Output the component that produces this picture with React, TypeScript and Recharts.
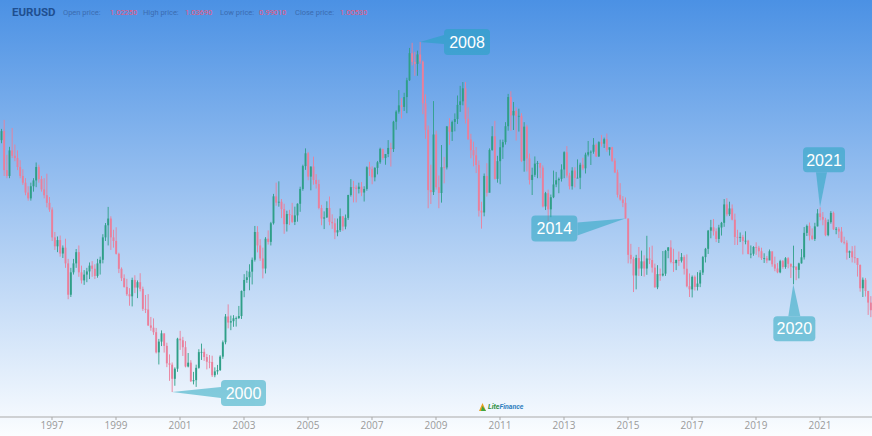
import React from 'react';
import { ComposedChart, Bar, XAxis, YAxis, ReferenceDot } from 'recharts';

// ---- DATA (monthly EURUSD, June 1995 .. August 2022) ----
const START_YEAR = 1995;
const START_MONTH = 6;
const firstOpen = 1.385;

const highs = [
  // 1995 Jun-Dec
  1.410, 1.430, 1.352, 1.370, 1.412, 1.375, 1.362,
  // 1996
  1.340, 1.320, 1.300, 1.282, 1.290, 1.300, 1.335, 1.330, 1.305, 1.300, 1.310, 1.258,
  // 1997
  1.235, 1.180, 1.170, 1.172, 1.150, 1.165, 1.120, 1.100, 1.120, 1.142, 1.150, 1.105,
  // 1998
  1.095, 1.100, 1.112, 1.115, 1.108, 1.120, 1.125, 1.175, 1.200, 1.236, 1.215, 1.185,
  // 1999
  1.1906, 1.1338, 1.1010, 1.0855, 1.0755, 1.0547, 1.0781, 1.0835, 1.0720, 1.0880, 1.0581, 1.0395,
  // 2000
  1.0415, 0.9905, 0.9873, 0.9660, 0.9415, 0.9605, 0.9530, 0.9330, 0.9070, 0.8890, 0.8780, 0.9440,
  // 2001
  0.9595, 0.9460, 0.9365, 0.9100, 0.8940, 0.8680, 0.8840, 0.9185, 0.9310, 0.9200, 0.9080, 0.9055,
  // 2002
  0.9040, 0.8780, 0.8835, 0.9050, 0.9380, 0.9970, 1.0185, 0.9935, 0.9945, 0.9915, 1.0150, 1.0495,
  // 2003
  1.0860, 1.0935, 1.1080, 1.1230, 1.1935, 1.1930, 1.1640, 1.1450, 1.1685, 1.1835, 1.2025, 1.2650,
  // 2004
  1.2900, 1.2930, 1.2535, 1.2430, 1.2275, 1.2295, 1.2450, 1.2365, 1.2440, 1.2810, 1.3300, 1.3665,
  // 2005
  1.3585, 1.3260, 1.3480, 1.3090, 1.2965, 1.2405, 1.2260, 1.2485, 1.2590, 1.2195, 1.2105, 1.2100,
  // 2006
  1.2325, 1.2155, 1.2190, 1.2630, 1.2980, 1.2940, 1.2840, 1.2900, 1.2915, 1.2820, 1.3265, 1.3365,
  // 2007
  1.3265, 1.3245, 1.3385, 1.3680, 1.3600, 1.3535, 1.3850, 1.3790, 1.4280, 1.4515, 1.4965, 1.4785,
  // 2008
  1.4905, 1.5240, 1.5905, 1.6020, 1.5820, 1.5845, 1.6040, 1.5625, 1.4870, 1.4175, 1.3300, 1.4720,
  // 2009
  1.4060, 1.3060, 1.3740, 1.3475, 1.4165, 1.4340, 1.4285, 1.4445, 1.4845, 1.5060, 1.5145, 1.5145,
  // 2010
  1.4580, 1.3990, 1.3815, 1.3695, 1.3395, 1.2475, 1.3105, 1.3335, 1.3665, 1.4160, 1.4280, 1.3500,
  // 2011
  1.3860, 1.3860, 1.4250, 1.4880, 1.4940, 1.4700, 1.4580, 1.4550, 1.4450, 1.4250, 1.4190, 1.3550,
  // 2012
  1.3235, 1.3485, 1.3385, 1.3285, 1.3285, 1.2695, 1.2745, 1.2635, 1.3170, 1.3140, 1.3015, 1.3310,
  // 2013
  1.3600, 1.3715, 1.3120, 1.3245, 1.3245, 1.3420, 1.3345, 1.3455, 1.3570, 1.3830, 1.3620, 1.3895,
  // 2014
  1.3775, 1.3825, 1.3965, 1.3905, 1.3995, 1.3680, 1.3700, 1.3445, 1.3190, 1.2890, 1.2600, 1.2570,
  // 2015
  1.2100, 1.1535, 1.1245, 1.1290, 1.1465, 1.1385, 1.1280, 1.1715, 1.1460, 1.1495, 1.1095, 1.1060,
  // 2016
  1.0985, 1.1375, 1.1400, 1.1465, 1.1615, 1.1425, 1.1185, 1.1365, 1.1330, 1.1280, 1.1300, 1.0875,
  // 2017
  1.0830, 1.0830, 1.0905, 1.0950, 1.1265, 1.1445, 1.1845, 1.2070, 1.2090, 1.1880, 1.1960, 1.2025,
  // 2018
  1.2535, 1.2555, 1.2475, 1.2415, 1.2210, 1.1850, 1.1790, 1.1735, 1.1815, 1.1625, 1.1500, 1.1485,
  // 2019
  1.1570, 1.1490, 1.1450, 1.1325, 1.1265, 1.1410, 1.1285, 1.1250, 1.1110, 1.1180, 1.1175, 1.1240,
  // 2020
  1.1240, 1.1095, 1.1495, 1.1020, 1.1115, 1.1420, 1.1910, 1.1965, 1.2010, 1.1880, 1.2005, 1.2310,
  // 2021
  1.2350, 1.2245, 1.2115, 1.2080, 1.2265, 1.2255, 1.1910, 1.1910, 1.1910, 1.1695, 1.1615, 1.1385,
  // 2022 Jan-Aug
  1.1485, 1.1495, 1.1185, 1.1075, 1.0785, 1.0775, 1.0485, 1.0370,
];

const lows = [
  // 1995 Jun-Dec
  1.378, 1.305, 1.300, 1.300, 1.345, 1.338, 1.318,
  // 1996
  1.300, 1.285, 1.262, 1.250, 1.250, 1.270, 1.280, 1.290, 1.270, 1.255, 1.235, 1.225,
  // 1997
  1.160, 1.140, 1.135, 1.125, 1.122, 1.100, 1.030, 1.035, 1.085, 1.100, 1.080, 1.065,
  // 1998
  1.062, 1.068, 1.075, 1.080, 1.075, 1.078, 1.085, 1.110, 1.160, 1.150, 1.140, 1.145,
  // 1999
  1.1298, 1.0883, 1.0706, 1.0558, 1.0374, 1.0155, 1.0140, 1.0437, 1.0325, 1.0475, 1.0040, 0.9992,
  // 2000
  0.9705, 0.9597, 0.9505, 0.9090, 0.8845, 0.9255, 0.9110, 0.8785, 0.8480, 0.8230, 0.8370, 0.8680,
  // 2001
  0.9170, 0.9035, 0.8780, 0.8780, 0.8455, 0.8400, 0.8344, 0.8750, 0.8945, 0.8925, 0.8735, 0.8760,
  // 2002
  0.8565, 0.8560, 0.8620, 0.8700, 0.8970, 0.9295, 0.9650, 0.9610, 0.9685, 0.9690, 0.9860, 0.9860,
  // 2003
  1.0345, 1.0665, 1.0500, 1.0630, 1.1140, 1.1345, 1.1155, 1.0765, 1.0875, 1.1520, 1.1500, 1.1965,
  // 2004
  1.2385, 1.2365, 1.2110, 1.1760, 1.1810, 1.1955, 1.2000, 1.1955, 1.2030, 1.2250, 1.2720, 1.3185,
  // 2005
  1.2955, 1.2730, 1.2855, 1.2770, 1.2305, 1.1950, 1.1865, 1.2115, 1.1950, 1.1870, 1.1640, 1.1705,
  // 2006
  1.1800, 1.1825, 1.1860, 1.2070, 1.2590, 1.2460, 1.2460, 1.2660, 1.2600, 1.2480, 1.2720, 1.3050,
  // 2007
  1.2865, 1.2930, 1.3085, 1.3320, 1.3410, 1.3300, 1.3470, 1.3260, 1.3585, 1.4080, 1.4440, 1.4330,
  // 2008
  1.4500, 1.4450, 1.5170, 1.5515, 1.5285, 1.5285, 1.5550, 1.4430, 1.3880, 1.2330, 1.2425, 1.2625,
  // 2009
  1.2745, 1.2330, 1.2455, 1.2885, 1.3195, 1.3745, 1.3830, 1.4045, 1.4210, 1.4480, 1.4625, 1.4220,
  // 2010
  1.3860, 1.3445, 1.3265, 1.3115, 1.2145, 1.1875, 1.2150, 1.2590, 1.2690, 1.3610, 1.2970, 1.2900,
  // 2011
  1.2865, 1.3430, 1.3750, 1.4060, 1.4055, 1.4075, 1.3840, 1.4040, 1.3360, 1.3145, 1.3150, 1.2860,
  // 2012
  1.2625, 1.3030, 1.3000, 1.3000, 1.2350, 1.2290, 1.2040, 1.2130, 1.2555, 1.2800, 1.2665, 1.2925,
  // 2013
  1.3000, 1.3010, 1.2750, 1.2745, 1.2795, 1.3000, 1.2755, 1.3180, 1.3105, 1.3485, 1.3295, 1.3545,
  // 2014
  1.3475, 1.3475, 1.3705, 1.3675, 1.3590, 1.3505, 1.3365, 1.3115, 1.2570, 1.2500, 1.2355, 1.2100,
  // 2015
  1.1100, 1.1095, 1.0460, 1.0520, 1.0820, 1.0820, 1.0805, 1.0845, 1.1085, 1.0895, 1.0560, 1.0525,
  // 2016
  1.0710, 1.0810, 1.0820, 1.1215, 1.1100, 1.0910, 1.0950, 1.1045, 1.1120, 1.0850, 1.0565, 1.0350,
  // 2017
  1.0340, 1.0495, 1.0495, 1.0570, 1.0840, 1.1120, 1.1310, 1.1660, 1.1720, 1.1575, 1.1555, 1.1720,
  // 2018
  1.1915, 1.2150, 1.2155, 1.2060, 1.1510, 1.1510, 1.1575, 1.1300, 1.1525, 1.1300, 1.1215, 1.1270,
  // 2019
  1.1290, 1.1235, 1.1175, 1.1110, 1.1105, 1.1180, 1.1025, 1.0925, 1.0880, 1.0880, 1.0980, 1.0980,
  // 2020
  1.0990, 1.0775, 1.0635, 1.0725, 1.0765, 1.1095, 1.1185, 1.1710, 1.1610, 1.1620, 1.1600, 1.1925,
  // 2021
  1.2060, 1.1950, 1.1705, 1.1705, 1.1985, 1.1845, 1.1750, 1.1665, 1.1560, 1.1525, 1.1185, 1.1220,
  // 2022 Jan-Aug
  1.1120, 1.1105, 1.0805, 1.0470, 1.0350, 1.0360, 0.9950, 0.9900,
];

const closes = [
  // 1995 Jun-Dec
  1.405, 1.318, 1.305, 1.362, 1.350, 1.345, 1.325,
  // 1996
  1.305, 1.290, 1.268, 1.255, 1.282, 1.295, 1.325, 1.298, 1.275, 1.262, 1.245, 1.230,
  // 1997
  1.168, 1.148, 1.162, 1.132, 1.145, 1.110, 1.040, 1.090, 1.110, 1.135, 1.090, 1.072,
  // 1998
  1.085, 1.092, 1.105, 1.098, 1.082, 1.110, 1.118, 1.168, 1.195, 1.210, 1.168, 1.160,
  // 1999
  1.1313, 1.0979, 1.0770, 1.0575, 1.0412, 1.0365, 1.0730, 1.0560, 1.0680, 1.0530, 1.0085, 1.0070,
  // 2000
  0.9715, 0.9665, 0.9565, 0.9115, 0.9355, 0.9540, 0.9260, 0.8870, 0.8840, 0.8525, 0.8750, 0.9420,
  // 2001
  0.9385, 0.9230, 0.8800, 0.8885, 0.8470, 0.8495, 0.8770, 0.9120, 0.9125, 0.9010, 0.8905, 0.8900,
  // 2002
  0.8605, 0.8690, 0.8720, 0.9020, 0.9340, 0.9915, 0.9780, 0.9810, 0.9875, 0.9880, 0.9925, 1.0485,
  // 2003
  1.0730, 1.0790, 1.0915, 1.1180, 1.1800, 1.1500, 1.1210, 1.0985, 1.1650, 1.1580, 1.1995, 1.2595,
  // 2004
  1.2455, 1.2475, 1.2310, 1.1975, 1.2200, 1.2175, 1.2025, 1.2170, 1.2430, 1.2760, 1.3270, 1.3555,
  // 2005
  1.3035, 1.3260, 1.2960, 1.2870, 1.2335, 1.2100, 1.2125, 1.2335, 1.2025, 1.1995, 1.1790, 1.1840,
  // 2006
  1.2150, 1.1920, 1.2115, 1.2625, 1.2800, 1.2790, 1.2760, 1.2810, 1.2680, 1.2760, 1.3245, 1.3200,
  // 2007
  1.3020, 1.3230, 1.3355, 1.3655, 1.3450, 1.3540, 1.3675, 1.3650, 1.4260, 1.4485, 1.4625, 1.4590,
  // 2008
  1.4810, 1.5185, 1.5790, 1.5595, 1.5550, 1.5760, 1.5600, 1.4670, 1.4080, 1.2735, 1.2690, 1.3975,
  // 2009
  1.2800, 1.2670, 1.3245, 1.3240, 1.4155, 1.4035, 1.4255, 1.4320, 1.4635, 1.4715, 1.5005, 1.4325,
  // 2010
  1.3865, 1.3625, 1.3510, 1.3295, 1.2275, 1.2235, 1.3050, 1.2675, 1.3630, 1.3935, 1.2985, 1.3380,
  // 2011
  1.3690, 1.3805, 1.4160, 1.4810, 1.4400, 1.4500, 1.4390, 1.4390, 1.3390, 1.4150, 1.3440, 1.2960,
  // 2012
  1.3075, 1.3325, 1.3340, 1.3235, 1.2370, 1.2665, 1.2305, 1.2575, 1.2860, 1.2955, 1.2985, 1.3195,
  // 2013
  1.3580, 1.3060, 1.2820, 1.3170, 1.3005, 1.3010, 1.3300, 1.3220, 1.3525, 1.3580, 1.3590, 1.3745,
  // 2014
  1.3485, 1.3805, 1.3770, 1.3870, 1.3635, 1.3690, 1.3390, 1.3130, 1.2630, 1.2525, 1.2450, 1.2100,
  // 2015
  1.1290, 1.1195, 1.0830, 1.1220, 1.0985, 1.1145, 1.0985, 1.1210, 1.1175, 1.1005, 1.0565, 1.0860,
  // 2016
  1.0830, 1.0870, 1.1380, 1.1455, 1.1130, 1.1105, 1.1175, 1.1160, 1.1240, 1.0980, 1.0590, 1.0520,
  // 2017
  1.0800, 1.0575, 1.0650, 1.0895, 1.1240, 1.1425, 1.1830, 1.1905, 1.1815, 1.1645, 1.1900, 1.2005,
  // 2018
  1.2415, 1.2195, 1.2325, 1.2075, 1.1690, 1.1685, 1.1690, 1.1600, 1.1605, 1.1310, 1.1315, 1.1465,
  // 2019
  1.1450, 1.1370, 1.1215, 1.1215, 1.1165, 1.1370, 1.1080, 1.0985, 1.0900, 1.1150, 1.1020, 1.1215,
  // 2020
  1.1090, 1.1025, 1.1030, 1.0955, 1.1100, 1.1235, 1.1780, 1.1935, 1.1720, 1.1645, 1.1925, 1.2215,
  // 2021
  1.2135, 1.2075, 1.1730, 1.2020, 1.2225, 1.1860, 1.1870, 1.1810, 1.1580, 1.1560, 1.1340, 1.1370,
  // 2022 Jan-Aug
  1.1235, 1.1220, 1.1065, 1.0545, 1.0735, 1.0485, 1.0225, 1.0055,
];

const tickYears = ['1997', '1999', '2001', '2003', '2005', '2007', '2009', '2011', '2013', '2015', '2017', '2019', '2021'];

const headerValues = { open: '1.02250', high: '1.03690', low: '0.99010', close: '1.00530' };

// callouts: label, month, which price they point at
const calloutLabels = ['2008', '2014', '2021', '2020', '2000'];
const calloutMonths = ['2008-07', '2014-12', '2021-01', '2020-03', '2000-10'];
const calloutFields: ('high' | 'low')[] = ['high', 'low', 'high', 'low', 'low'];

// ---- build table ----
const months: string[] = [];
for (let i = 0; i < closes.length; i++) {
  const t = START_MONTH - 1 + i;
  const yr = START_YEAR + Math.floor(t / 12);
  const mo = (t % 12) + 1;
  months.push(`${yr}-${String(mo).padStart(2, '0')}`);
}
const data = months.map((m, i) => ({
  m,
  open: i === 0 ? firstOpen : closes[i - 1],
  high: highs[i],
  low: lows[i],
  close: closes[i],
}));

// ---- styles / layout ----
const W = 872;
const H = 436;
const UP = '#2f9f88';
const DOWN = '#ea7f9b';
const BOX_FILL = 'rgb(34,165,190)';

const calloutLayout = [
  { dx: 24, dy: -13, w: 46, h: 26, side: 'left', b0: 6, b1: 15 },
  { dx: -94, dy: -3, w: 46, h: 26, side: 'right', b0: 7, b1: 20 },
  { dx: -17, dy: -60, w: 42, h: 25, side: 'bottom', b0: 13, b1: 24 },
  { dx: -20, dy: 32, w: 42, h: 25, side: 'top', b0: 15, b1: 27 },
  { dx: 49, dy: -12, w: 45, h: 26, side: 'left', b0: 7, b1: 18 },
];

const Candle = (props: any) => {
  const { x, y, width, height, payload } = props;
  if (!payload || x == null || y == null) return null;
  const { open, close, high, low } = payload;
  const top = Math.min(y, y + height);
  const bottom = Math.max(y, y + height);
  const span = high - low;
  const ppu = span > 0 ? (bottom - top) / span : 0;
  const yOf = (v: number) => top + (high - v) * ppu;
  const up = close >= open;
  const color = up ? UP : DOWN;
  const cx = x + width / 2;
  const bTop = yOf(Math.max(open, close));
  const bBot = yOf(Math.min(open, close));
  const bw = 1.9;
  return (
    <g>
      <line x1={cx} x2={cx} y1={top} y2={bottom} stroke={color} strokeWidth={0.9} />
      <rect x={cx - bw / 2} y={bTop} width={bw} height={Math.max(0.8, bBot - bTop)} fill={color} />
    </g>
  );
};

const Callout = (props: any) => {
  const { cx, cy, label, lay } = props;
  if (cx == null || cy == null) return null;
  const bx = cx + lay.dx;
  const by = cy + lay.dy;
  let pts = '';
  if (lay.side === 'left') pts = `${bx},${by + lay.b0} ${bx},${by + lay.b1} ${cx},${cy}`;
  if (lay.side === 'right') pts = `${bx + lay.w},${by + lay.b0} ${bx + lay.w},${by + lay.b1} ${cx},${cy}`;
  if (lay.side === 'top') pts = `${bx + lay.b0},${by} ${bx + lay.b1},${by} ${cx},${cy}`;
  if (lay.side === 'bottom') pts = `${bx + lay.b0},${by + lay.h} ${bx + lay.b1},${by + lay.h} ${cx},${cy}`;
  return (
    <g>
      <g opacity={0.52}>
        <rect x={bx} y={by} width={lay.w} height={lay.h} rx={4} ry={4} fill={BOX_FILL} />
        <polygon points={pts} fill={BOX_FILL} />
      </g>
      <text
        x={bx + lay.w / 2}
        y={by + lay.h / 2}
        dy="0.36em"
        textAnchor="middle"
        fill="#ffffff"
        fontSize={16}
        fontFamily="'Liberation Sans', Arial, sans-serif"
      >
        {label}
      </text>
    </g>
  );
};

const labelStyle: React.CSSProperties = {
  position: 'absolute',
  top: 9,
  fontSize: 7.5,
  lineHeight: '8px',
  color: '#3b6cb0',
  whiteSpace: 'nowrap',
};
const valueStyle: React.CSSProperties = { ...labelStyle, color: '#e8587c' };

export default function App() {
  return (
    <div
      style={{
        position: 'absolute',
        left: 0,
        top: 0,
        width: W,
        height: H,
        overflow: 'hidden',
        background: 'linear-gradient(to bottom, #4b91e4 0%, #a5c8f2 50%, #fbfdff 100%)',
        fontFamily: "Roboto, 'Liberation Sans', sans-serif",
      }}
    >
      <div style={{ position: 'absolute', left: 12, top: 6, fontSize: 11.5, lineHeight: '13px', fontWeight: 700, color: '#1f4f90' }}>
        EURUSD
      </div>
      <div style={{ ...labelStyle, left: 63 }}>Open price:</div>
      <div style={{ ...valueStyle, left: 110 }}>{headerValues.open}</div>
      <div style={{ ...labelStyle, left: 143 }}>High price:</div>
      <div style={{ ...valueStyle, left: 185 }}>{headerValues.high}</div>
      <div style={{ ...labelStyle, left: 220 }}>Low price:</div>
      <div style={{ ...valueStyle, left: 259 }}>{headerValues.low}</div>
      <div style={{ ...labelStyle, left: 295 }}>Close price:</div>
      <div style={{ ...valueStyle, left: 340 }}>{headerValues.close}</div>

      <div style={{ position: 'absolute', left: 0, top: 0 }}>
        <ComposedChart
          width={W}
          height={H}
          data={data}
          margin={{ top: 0, right: 0, bottom: 0, left: 0 }}
          barCategoryGap={0}
          barGap={0}
        >
          <XAxis
            dataKey="m"
            type="category"
            ticks={tickYears.map((y) => `${y}-01`)}
            interval={0}
            tickFormatter={(v: string) => v.slice(0, 4)}
            height={19}
            axisLine={{ stroke: '#a9a9a9' }}
            tickLine={{ stroke: '#a9a9a9' }}
            tickSize={3}
            tick={{ fill: '#9a9a9a', fontSize: 10, fontFamily: "'Open Sans', sans-serif" }}
          />
          <YAxis hide type="number" domain={[0.7673, 1.6975]} allowDataOverflow />
          <Bar
            dataKey={(d: any) => [d.low, d.high]}
            isAnimationActive={false}
            shape={(p: any) => <Candle {...p} />}
          />
          {calloutLabels.map((label, i) => {
            const row = data.find((d) => d.m === calloutMonths[i])!;
            return (
              <ReferenceDot
                key={label}
                x={calloutMonths[i]}
                y={row[calloutFields[i]]}
                r={0}
                ifOverflow="visible"
                shape={(p: any) => <Callout {...p} label={label} lay={calloutLayout[i]} />}
              />
            );
          })}
        </ComposedChart>
      </div>

      <div style={{ position: 'absolute', left: 478, top: 402, display: 'flex', alignItems: 'center' }}>
        <svg width={9} height={10}>
          <polygon points="1,9 4.5,1 8,9" fill="#e8a020" />
          <polygon points="3,9 4.5,4 8,9" fill="#3aa845" />
        </svg>
        <span style={{ fontSize: 7, fontStyle: 'italic', fontWeight: 700, color: '#2f8f3f', marginLeft: 1 }}>
          Lite<span style={{ color: '#2f7fc0' }}>Finance</span>
        </span>
      </div>
    </div>
  );
}
